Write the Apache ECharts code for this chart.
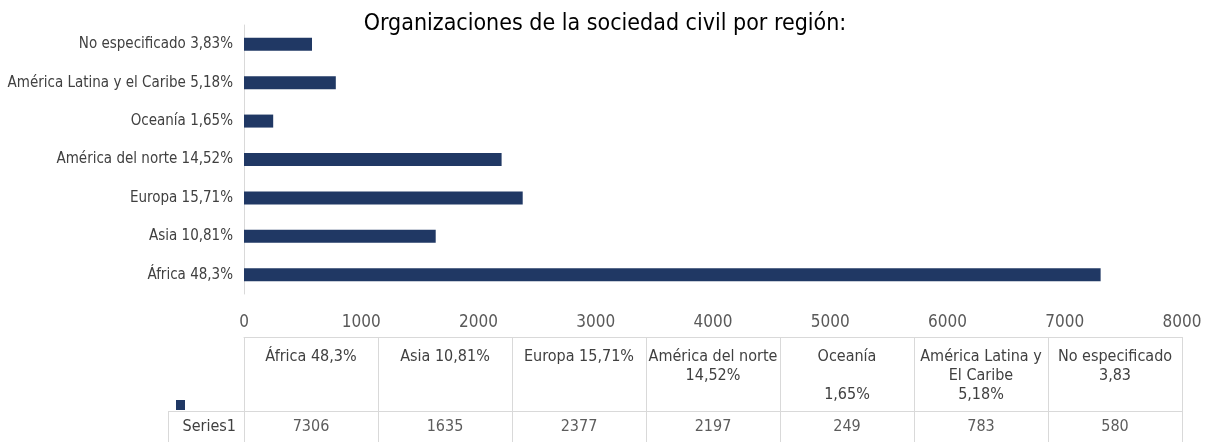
<!DOCTYPE html>
<html>
<head>
<meta charset="utf-8">
<script src="https://cdn.jsdelivr.net/npm/echarts@6/dist/echarts.min.js"></script>
<style>
  html, body { margin: 0; padding: 0; background: #fff; }
  #container { width: 1210px; height: 442px; }
</style>
</head>
<body>
<div id="container"></div>
<script>
// categorías (de abajo hacia arriba en el eje)
const regionLabels = ['África 48,3%', 'Asia 10,81%', 'Europa 15,71%', 'América del norte 14,52%',
  'Oceanía 1,65%', 'América Latina y el Caribe 5,18%', 'No especificado 3,83%'];
const orgCounts = [7306, 1635, 2377, 2197, 249, 783, 580];
// encabezados de la tabla de datos
const tableHeaders = ['África 48,3%', 'Asia 10,81%', 'Europa 15,71%', 'América del norte\n14,52%',
  'Oceanía\n\n1,65%', 'América Latina y\nEl Caribe\n5,18%', 'No especificado\n3,83'];
const seriesName = 'Series1';
const xMax = 8000;
const xStep = 1000;

const font = '"Liberation Sans Narrow", "DejaVu Sans Condensed", sans-serif';
const barColor = '#203864';
const borderColor = '#d9d9d9';

let dom = document.getElementById('container');
let myChart = echarts.init(dom);

let option = {
  animation: false,
  textStyle: { fontFamily: font },
  title: {
    text: 'Organizaciones de la sociedad civil por región:',
    left: 'center',
    top: 8,
    textStyle: { fontFamily: font, fontSize: 23, fontWeight: 'normal', color: '#000' }
  },
  legend: {
    data: [seriesName],
    left: 176,
    top: 400,
    padding: 0,
    itemWidth: 9,
    itemHeight: 10,
    icon: 'rect',
    formatter: () => '',
    itemGap: 0
  },
  grid: [
    { left: 244, right: 28, top: 25, height: 269, outerBoundsMode: 'none', containLabel: false },
    { left: 244, right: 28, top: 337, height: 74, outerBoundsMode: 'none', containLabel: false },
    { left: 244, right: 28, top: 411, height: 31, outerBoundsMode: 'none', containLabel: false }
  ],
  xAxis: [
    {
      gridIndex: 0, type: 'value', min: 0, max: xMax, interval: xStep,
      axisLine: { show: false }, axisTick: { show: false }, splitLine: { show: false },
      axisLabel: { color: '#595959', fontSize: 17, margin: 20, fontFamily: font, formatter: v => String(v) }
    },
    {
      gridIndex: 1, type: 'category', data: tableHeaders, position: 'top',
      axisLine: { onZero: false, lineStyle: { color: borderColor } },
      axisTick: { show: false },
      splitLine: { show: true, lineStyle: { color: borderColor } },
      axisLabel: {
        inside: true, interval: 0, margin: 10, verticalAlign: 'top',
        lineHeight: 19, fontSize: 16, color: '#404040', fontFamily: font
      }
    },
    {
      gridIndex: 2, type: 'category', data: tableHeaders, position: 'top',
      axisLine: { onZero: false, lineStyle: { color: borderColor } },
      axisTick: { show: false },
      splitLine: { show: true, lineStyle: { color: borderColor } },
      axisLabel: { show: false }
    }
  ],
  yAxis: [
    {
      gridIndex: 0, type: 'category', data: regionLabels,
      axisLine: { lineStyle: { color: borderColor } },
      axisTick: { show: false },
      axisLabel: { color: '#404040', fontSize: 15, margin: 11, fontFamily: font }
    },
    { gridIndex: 1, type: 'value', show: false },
    {
      gridIndex: 2, type: 'category', data: [seriesName],
      axisLine: { show: false }, axisTick: { show: false },
      axisLabel: { color: '#404040', fontSize: 16, margin: 8, fontFamily: font }
    }
  ],
  series: [
    {
      name: seriesName,
      type: 'bar',
      xAxisIndex: 0, yAxisIndex: 0,
      data: orgCounts,
      barWidth: 13,
      itemStyle: { color: barColor }
    },
    {
      type: 'scatter',
      xAxisIndex: 2, yAxisIndex: 2,
      symbolSize: 1,
      itemStyle: { color: 'transparent' },
      data: orgCounts.map((v, i) => [i, 0, v]),
      label: {
        show: true, position: 'inside',
        formatter: p => p.value[2],
        color: '#333', fontSize: 16, fontFamily: font
      }
    }
  ],
  graphic: [
    { type: 'line', shape: { x1: 168, y1: 411.5, x2: 244, y2: 411.5 }, style: { stroke: borderColor, lineWidth: 1 } },
    { type: 'line', shape: { x1: 168.5, y1: 411, x2: 168.5, y2: 442 }, style: { stroke: borderColor, lineWidth: 1 } }
  ]
};

myChart.setOption(option);
</script>
</body>
</html>
